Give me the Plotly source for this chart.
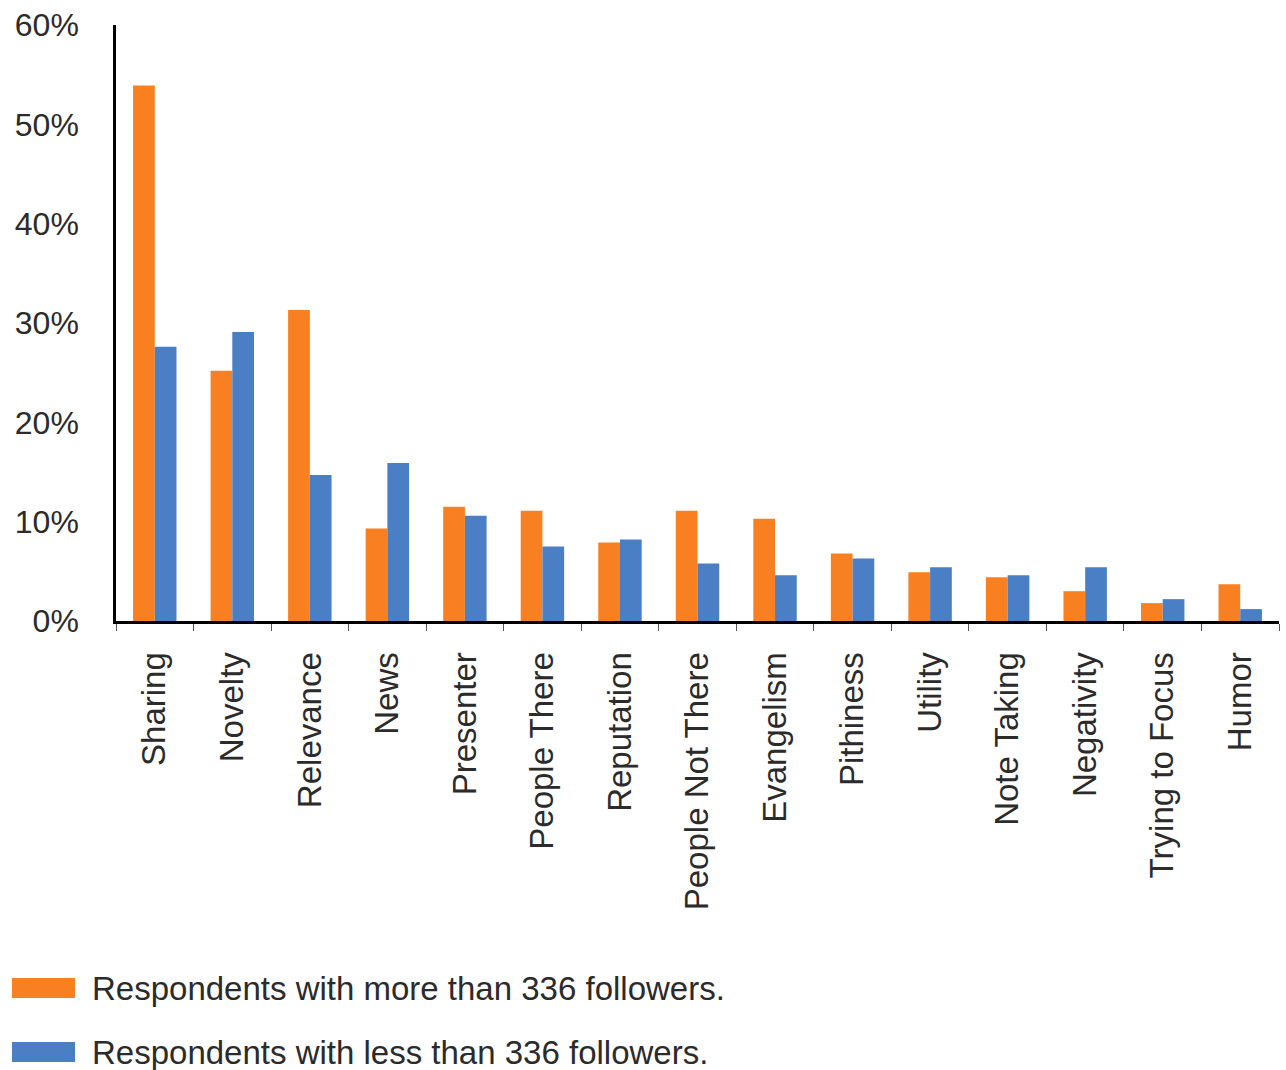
import plotly.graph_objects as go

categories = ["Sharing", "Novelty", "Relevance", "News", "Presenter", "People There",
              "Reputation", "People Not There", "Evangelism", "Pithiness", "Utility",
              "Note Taking", "Negativity", "Trying to Focus", "Humor"]
more_than_336 = [53.9, 25.2, 31.3, 9.3, 11.5, 11.1, 7.9, 11.1, 10.3, 6.8, 4.9, 4.4, 3.0, 1.8, 3.7]
less_than_336 = [27.6, 29.1, 14.7, 15.9, 10.6, 7.5, 8.2, 5.8, 4.6, 6.3, 5.4, 4.6, 5.4, 2.2, 1.2]
series_names = ["Respondents with more than 336 followers.",
                "Respondents with less than 336 followers."]
y_ticks = [0, 10, 20, 30, 40, 50, 60]

ORANGE = "#F98020"
BLUE = "#4A7EC5"
FONT = "Liberation Sans, Arial, Helvetica, sans-serif"
TXT = "#2b2b2b"

W, H = 1286, 1070
L, R, T, B = 116, 7, 25, 449
PW, PH = W - L - R, H - T - B

fig = go.Figure()
fig.add_trace(go.Bar(x=categories, y=more_than_336, name=series_names[0],
                     marker=dict(color=ORANGE, line=dict(width=0))))
fig.add_trace(go.Bar(x=categories, y=less_than_336, name=series_names[1],
                     marker=dict(color=BLUE, line=dict(width=0))))

fig.update_layout(
    width=W, height=H,
    margin=dict(l=L, r=R, t=T, b=B),
    paper_bgcolor="white", plot_bgcolor="white",
    barmode="group", bargap=0.44, bargroupgap=0,
    showlegend=False,
    font=dict(family=FONT, color=TXT),
)
fig.update_yaxes(
    range=[0, 60], tickvals=y_ticks, ticktext=[f"{v}%" for v in y_ticks],
    showgrid=False, zeroline=False, showline=True, linecolor="black", linewidth=2.5,
    ticks="", tickfont=dict(size=32, family=FONT, color=TXT), ticklabelstandoff=28,
)
fig.update_xaxes(
    showgrid=False, showline=True, linecolor="black", linewidth=3,
    ticks="outside", tickson="boundaries", ticklen=7, tickcolor="#555", tickwidth=1,
    tickangle=-90, tickfont=dict(size=33, family=FONT, color=TXT), ticklabelstandoff=15,
)

# custom legend with wide swatches (placed below the plot area)
legend_rows = [(series_names[0], ORANGE, 988), (series_names[1], BLUE, 1052)]
for name, color, ypix in legend_rows:
    y0 = (H - B - (ypix + 10)) / PH
    y1 = (H - B - (ypix - 10)) / PH
    fig.add_shape(type="rect", xref="paper", yref="paper",
                  x0=(12 - L) / PW, x1=(75 - L) / PW, y0=y0, y1=y1,
                  fillcolor=color, line=dict(width=0))
    fig.add_annotation(xref="paper", yref="paper", x=(90 - L) / PW,
                       y=(H - B - ypix) / PH, text=name, showarrow=False,
                       xanchor="left", yanchor="middle",
                       font=dict(size=33, family=FONT, color=TXT))

fig.write_html("out.html")
